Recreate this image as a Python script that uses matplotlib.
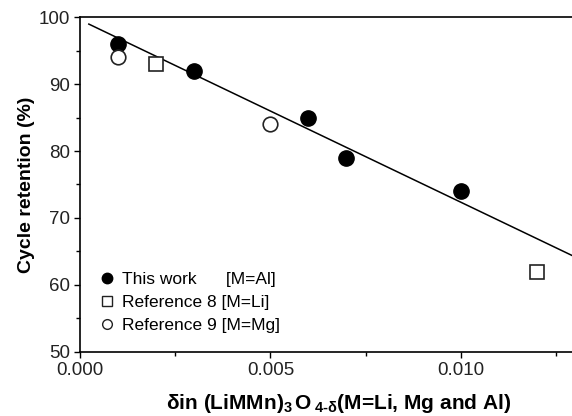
import matplotlib.pyplot as plt
from matplotlib.lines import Line2D

plt.rcParams["font.family"] = ["Liberation Sans", "DejaVu Sans"]
plt.rcParams["mathtext.fontset"] = "custom"
plt.rcParams["mathtext.rm"] = "Liberation Sans:bold"
plt.rcParams["mathtext.it"] = "Liberation Sans:bold"
plt.rcParams["mathtext.bf"] = "Liberation Sans:bold"

# this work, M=Al
al_x = [0.001, 0.003, 0.006, 0.007, 0.010]
al_y = [96, 92, 85, 79, 74]
# reference 8, M=Li
li_x = [0.002, 0.012]
li_y = [93, 62]
# reference 9, M=Mg
mg_x = [0.001, 0.005]
mg_y = [94, 84]
# fitted line end points
fit_x = [0.00023, 0.013]
fit_y = [98.95, 64.2]

fig = plt.figure(figsize=(5.72, 4.16), dpi=100)
ax = fig.add_axes([0.14, 0.154, 0.865, 0.805])

ax.plot(fit_x, fit_y, color="black", lw=1.1, zorder=1)
ax.plot(al_x, al_y, "o", color="black", ms=11, zorder=3)
ax.plot(li_x, li_y, "s", mfc="white", mec="#222222", mew=1.2, ms=9.5, zorder=3)
ax.plot(mg_x, mg_y, "o", mfc="white", mec="#222222", mew=1.2, ms=10.5, zorder=3)

ax.set_xlim(0, 0.013)
ax.set_ylim(50, 100)
ax.set_xticks([0.000, 0.005, 0.010])
ax.set_xticklabels(["0.000", "0.005", "0.010"])
ax.set_xticks([0.0025, 0.0075, 0.0125], minor=True)
ax.set_yticks([50, 60, 70, 80, 90, 100])
ax.set_yticks([55, 65, 75, 85, 95], minor=True)
ax.tick_params(which="major", direction="out", length=4.5, width=1,
               labelsize=13.5, labelcolor="#222222", pad=2.5)
ax.tick_params(which="minor", direction="out", length=3, width=1)
ax.spines["right"].set_visible(False)
for s in ["left", "bottom", "top"]:
    ax.spines[s].set_linewidth(1.2)

ax.set_ylabel("Cycle retention (%)", fontsize=14, fontweight="bold")
ax.yaxis.set_label_coords(-0.092, 0.5)
ax.set_xlabel(r"$\delta$in (LiMMn)$_3\,$O$\,_{4\text{-}\delta}$(M=Li, Mg and Al)",
              fontsize=15, fontweight="bold")
ax.xaxis.set_label_coords(0.522, -0.12)

handles = [
    Line2D([], [], marker="o", ls="", color="black", ms=7.5),
    Line2D([], [], marker="s", ls="", mfc="white", mec="#222222", ms=6.5),
    Line2D([], [], marker="o", ls="", mfc="white", mec="#222222", ms=7),
]
labels = ["This work      [M=Al]", "Reference 8 [M=Li]", "Reference 9 [M=Mg]"]
ax.legend(handles, labels, loc="center left", frameon=False, fontsize=12.5,
          handlelength=0.8, handletextpad=0.45, labelspacing=0.45,
          borderpad=0.4, borderaxespad=0, bbox_to_anchor=(0.027, 0.149))

fig.savefig("out.png", dpi=100)
